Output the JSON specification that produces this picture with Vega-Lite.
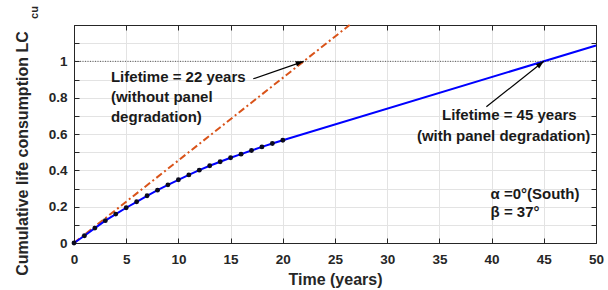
{
  "$schema": "https://vega.github.io/schema/vega-lite/v6.json",
  "width": 522,
  "height": 218,
  "autosize": "none",
  "padding": {"left": 74, "top": 25, "right": 12, "bottom": 47},
  "background": "white",
  "config": {
    "font": "Liberation Sans",
    "view": {"stroke": "#262626", "strokeWidth": 1},
    "axis": {
      "labelFont": "Liberation Sans",
      "labelFontWeight": "bold",
      "labelFontSize": 13.5,
      "labelColor": "#262626",
      "labelFlush": false,
      "labelOverlap": false,
      "titleFont": "Liberation Sans",
      "titleFontWeight": "bold",
      "titleFontSize": 16,
      "titleColor": "#262626",
      "domainColor": "#262626",
      "tickColor": "#262626",
      "gridColor": "#e3e3e3",
      "gridWidth": 1,
      "tickSize": -5,
      "tickWidth": 1
    }
  },
  "datasets": {
    "orange": [{"t": 0, "lc": 0}, {"t": 26.4, "lc": 1.2}],
    "blue": [
      {"t": 0, "lc": 0}, {"t": 1, "lc": 0.040}, {"t": 2, "lc": 0.082}, {"t": 3, "lc": 0.123},
      {"t": 4, "lc": 0.159}, {"t": 5, "lc": 0.194}, {"t": 6, "lc": 0.227}, {"t": 7, "lc": 0.260},
      {"t": 8, "lc": 0.291}, {"t": 9, "lc": 0.320}, {"t": 10, "lc": 0.348}, {"t": 11, "lc": 0.375},
      {"t": 12, "lc": 0.401}, {"t": 13, "lc": 0.425}, {"t": 14, "lc": 0.447}, {"t": 15, "lc": 0.469},
      {"t": 16, "lc": 0.489}, {"t": 17, "lc": 0.509}, {"t": 18, "lc": 0.529}, {"t": 19, "lc": 0.548},
      {"t": 20, "lc": 0.566}, {"t": 50, "lc": 1.087}
    ],
    "limit": [{"lc": 1}],
    "arrows": [
      {"t": 17.17, "lc": 0.904, "t2": 22, "lc2": 1},
      {"t": 39.5, "lc": 0.75, "t2": 45, "lc2": 1}
    ],
    "head1": [{"t": 22, "lc": 1}],
    "head2": [{"t": 45, "lc": 1}],
    "notes": [
      {"t": 3.54, "lc": 0.912, "txt": "Lifetime = 22 years"},
      {"t": 3.54, "lc": 0.803, "txt": "(without panel"},
      {"t": 3.54, "lc": 0.696, "txt": "degradation)"},
      {"t": 35.25, "lc": 0.702, "txt": "Lifetime = 45 years"},
      {"t": 32.85, "lc": 0.590, "txt": "(with panel degradation)"},
      {"t": 39.9, "lc": 0.268, "txt": "α =0°(South)"},
      {"t": 39.9, "lc": 0.170, "txt": "β = 37°"}
    ],
    "sub": [{"t": -3.78, "lc": 1.269, "txt": "cu"}]
  },
  "layer": [
    {
      "data": {"name": "orange"},
      "mark": {"type": "line", "color": "#D95319", "strokeWidth": 2, "strokeDash": [7, 3, 2, 3]},
      "encoding": {
        "x": {
          "field": "t", "type": "quantitative",
          "scale": {"domain": [0, 50], "nice": false},
          "axis": {
            "orient": "bottom",
            "values": [0, 5, 10, 15, 20, 25, 30, 35, 40, 45, 50],
            "title": "Time (years)",
            "grid": true,
            "labelPadding": 14,
            "titleY": 41.5,
            "titleBaseline": "alphabetic"
          }
        },
        "y": {
          "field": "lc", "type": "quantitative",
          "scale": {"domain": [0, 1.2], "nice": false},
          "axis": {
            "orient": "left",
            "values": [0, 0.1, 0.2, 0.3, 0.4, 0.5, 0.6, 0.7, 0.8, 0.9, 1, 1.1, 1.2],
            "labelExpr": "(round(datum.value * 10) % 2 == 0 && datum.value < 1.05) ? format(datum.value, '~r') : ''",
            "title": "Cumulative life consumption LC",
            "grid": true,
            "labelPadding": 12,
            "titleX": -46.5,
            "titleY": 128,
            "titleBaseline": "alphabetic",
            "titleAngle": -90
          }
        }
      }
    },
    {
      "data": {"name": "blue"},
      "mark": {"type": "line", "color": "#0000FF", "strokeWidth": 2},
      "encoding": {
        "x": {
          "field": "t", "type": "quantitative",
          "axis": {
            "orient": "top",
            "values": [0, 5, 10, 15, 20, 25, 30, 35, 40, 45, 50],
            "labels": false, "title": null, "grid": false
          }
        },
        "y": {
          "field": "lc", "type": "quantitative",
          "axis": {
            "orient": "right",
            "values": [0, 0.1, 0.2, 0.3, 0.4, 0.5, 0.6, 0.7, 0.8, 0.9, 1, 1.1, 1.2],
            "labels": false, "title": null, "grid": false
          }
        }
      }
    },
    {
      "data": {"name": "blue"},
      "transform": [{"filter": "datum.t <= 20"}],
      "mark": {"type": "point", "filled": true, "color": "#0a0a1e", "size": 24, "opacity": 1},
      "encoding": {
        "x": {"field": "t", "type": "quantitative", "axis": null},
        "y": {"field": "lc", "type": "quantitative", "axis": null}
      }
    },
    {
      "data": {"name": "limit"},
      "mark": {"type": "rule", "color": "#333333", "strokeWidth": 0.8, "strokeDash": [1, 1.5]},
      "encoding": {
        "y": {"field": "lc", "type": "quantitative", "axis": null}
      }
    },
    {
      "data": {"name": "arrows"},
      "mark": {"type": "rule", "color": "#000000", "strokeWidth": 1.2},
      "encoding": {
        "x": {"field": "t", "type": "quantitative", "axis": null},
        "y": {"field": "lc", "type": "quantitative", "axis": null},
        "x2": {"field": "t2"},
        "y2": {"field": "lc2"}
      }
    },
    {
      "data": {"name": "head1"},
      "mark": {"type": "point", "shape": "M0,0 L-1,-0.34 L-1,0.34 Z", "filled": true, "color": "#000000", "opacity": 1, "size": 256, "angle": -17.8},
      "encoding": {
        "x": {"field": "t", "type": "quantitative", "axis": null},
        "y": {"field": "lc", "type": "quantitative", "axis": null}
      }
    },
    {
      "data": {"name": "head2"},
      "mark": {"type": "point", "shape": "M0,0 L-1,-0.34 L-1,0.34 Z", "filled": true, "color": "#000000", "opacity": 1, "size": 256, "angle": -38.1},
      "encoding": {
        "x": {"field": "t", "type": "quantitative", "axis": null},
        "y": {"field": "lc", "type": "quantitative", "axis": null}
      }
    },
    {
      "data": {"name": "notes"},
      "mark": {"type": "text", "align": "left", "baseline": "middle", "font": "Liberation Sans", "fontWeight": "bold", "fontSize": 15, "color": "#1a1a1a"},
      "encoding": {
        "x": {"field": "t", "type": "quantitative", "axis": null},
        "y": {"field": "lc", "type": "quantitative", "axis": null},
        "text": {"field": "txt"}
      }
    },
    {
      "data": {"name": "sub"},
      "mark": {"type": "text", "align": "center", "baseline": "middle", "angle": -90, "font": "Liberation Sans", "fontWeight": "bold", "fontSize": 11, "color": "#262626"},
      "encoding": {
        "x": {"field": "t", "type": "quantitative", "axis": null},
        "y": {"field": "lc", "type": "quantitative", "axis": null},
        "text": {"field": "txt"}
      }
    }
  ],
  "resolve": {"axis": {"x": "independent", "y": "independent"}}
}
